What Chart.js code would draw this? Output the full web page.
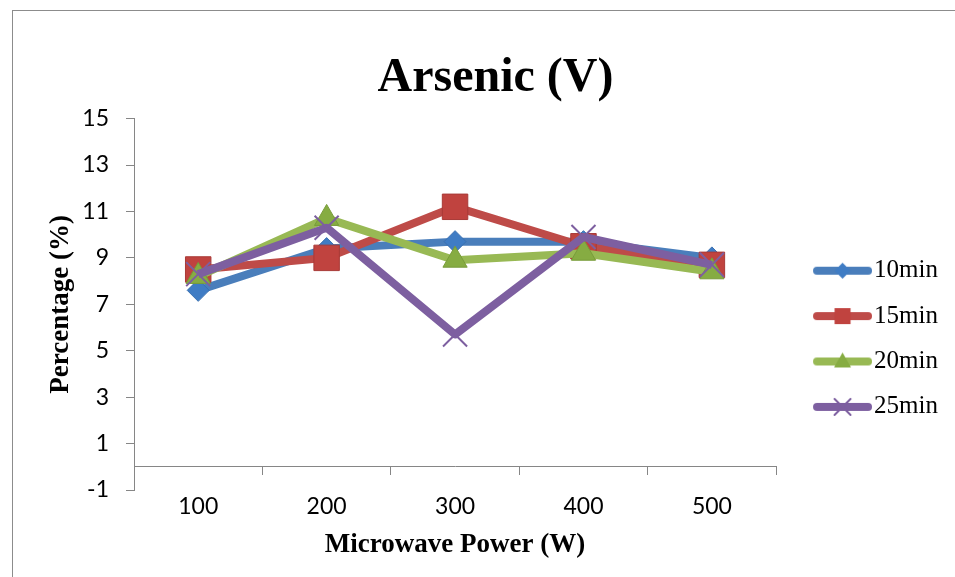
<!DOCTYPE html>
<html>
<head>
<meta charset="utf-8">
<script src="https://cdn.jsdelivr.net/npm/chart.js@4.4.1/dist/chart.umd.min.js"></script>
<style>
  html, body { margin: 0; padding: 0; background: #fff; overflow: hidden; }
  #frame { position: absolute; left: 12px; top: 10px; width: 1000px; height: 1000px; border: 1px solid #8c8c8c; }
  #chart { position: absolute; left: 0; top: 0; }
</style>
</head>
<body>
<div id="frame"></div>
<canvas id="chart" width="955" height="577"></canvas>
<script>
// data
const powers = ['100', '200', '300', '400', '500'];
const min10 = [7.6, 9.4, 9.7, 9.7, 9.0];
const min15 = [8.5, 9.0, 11.2, 9.5, 8.7];
const min20 = [8.2, 10.7, 8.9, 9.2, 8.4];
const min25 = [8.3, 10.3, 5.7, 9.9, 8.7];
const seriesNames = ['10min', '15min', '20min', '25min'];
const yTicks = [-1, 1, 3, 5, 7, 9, 11, 13, 15];

const axisGray = '#868686';

// legend icon: thick line with the marker in the middle
function legendIcon(color, fill, marker) {
  const c = document.createElement('canvas');
  c.width = 86; c.height = 22;
  const g = c.getContext('2d');
  g.strokeStyle = color; g.lineWidth = 8; g.lineCap = 'round';
  g.beginPath(); g.moveTo(31, 11); g.lineTo(82, 11); g.stroke();
  const cx = 56.5, cy = 11;
  g.fillStyle = fill; g.strokeStyle = fill; g.lineWidth = 1;
  g.beginPath();
  if (marker === 'diamond') {
    g.moveTo(cx, cy - 8); g.lineTo(cx + 8, cy); g.lineTo(cx, cy + 8); g.lineTo(cx - 8, cy); g.closePath(); g.fill();
  } else if (marker === 'square') {
    g.rect(cx - 8, cy - 8, 16, 16); g.fill();
  } else if (marker === 'triangle') {
    g.moveTo(cx, cy - 9); g.lineTo(cx + 8.5, cy + 6); g.lineTo(cx - 8.5, cy + 6); g.closePath(); g.fill();
  } else {
    g.lineWidth = 2;
    g.moveTo(cx - 8, cy - 8); g.lineTo(cx + 8, cy + 8);
    g.moveTo(cx + 8, cy - 8); g.lineTo(cx - 8, cy + 8); g.stroke();
  }
  return c;
}

const icons = [
  legendIcon('#4A7EBB', '#3F7CC4', 'diamond'),
  legendIcon('#BE4B48', '#C0433F', 'square'),
  legendIcon('#98B954', '#86AC42', 'triangle'),
  legendIcon('#7D5FA0', '#7D5FA0', 'cross')
];

new Chart(document.getElementById('chart'), {
  type: 'line',
  data: {
    labels: powers,
    datasets: [
      {
        label: seriesNames[0], data: min10, xAxisID: 'x', order: 3,
        borderColor: '#4A7EBB', borderWidth: 8, borderJoinStyle: 'round',
        pointStyle: 'rectRot', pointRadius: 11, pointBorderWidth: 1,
        pointBackgroundColor: '#3F7CC4', pointBorderColor: '#3A70B0'
      },
      {
        label: seriesNames[1], data: min15, xAxisID: 'x', order: 2,
        borderColor: '#BE4B48', borderWidth: 8, borderJoinStyle: 'round',
        pointStyle: 'rect', pointRadius: 18, pointBorderWidth: 1,
        pointBackgroundColor: '#C0433F', pointBorderColor: '#A83A37'
      },
      {
        label: seriesNames[2], data: min20, xAxisID: 'x', order: 1,
        borderColor: '#98B954', borderWidth: 8, borderJoinStyle: 'round',
        pointStyle: 'triangle', pointRadius: 14, pointBorderWidth: 1,
        pointBackgroundColor: '#86AC42', pointBorderColor: '#789C3A'
      },
      {
        label: seriesNames[3], data: min25, xAxisID: 'x', order: 0,
        borderColor: '#7D5FA0', borderWidth: 8, borderJoinStyle: 'round',
        pointStyle: 'crossRot', pointRadius: 17, pointBorderWidth: 2,
        pointBackgroundColor: '#7D5FA0', pointBorderColor: '#7D5FA0'
      }
    ]
  },
  options: {
    responsive: false,
    animation: false,
    devicePixelRatio: 1,
    layout: { padding: { left: 43, right: 7, top: 0, bottom: 0 } },
    plugins: {
      tooltip: { enabled: false },
      title: {
        display: true,
        text: 'Arsenic (V)',
        color: '#000',
        font: { family: 'Liberation Serif', size: 48, weight: 'bold' },
        padding: { top: 50, bottom: 11 }
      },
      legend: {
        position: 'right',
        fullSize: false,
        title: { display: true, text: '', font: { size: 10 }, padding: { top: 57, bottom: 0 } },
        labels: {
          usePointStyle: true,
          pointStyleWidth: 65.1,
          padding: 20.4,
          color: '#000',
          font: { family: 'Liberation Serif', size: 25 },
          generateLabels: chart => chart.data.datasets.map((ds, i) => ({
            text: ds.label,
            pointStyle: icons[i],
            datasetIndex: i,
            fontColor: '#000',
            lineWidth: 0,
            hidden: false
          }))
        }
      }
    },
    scales: {
      x: {
        type: 'category',
        position: 'bottom',
        offset: true,
        grid: { display: false, drawTicks: false },
        border: { display: false },
        ticks: { color: '#000', padding: 3, font: { family: 'Lato', size: 23 } },
        title: {
          display: true,
          text: 'Microwave Power (W)',
          color: '#000',
          font: { family: 'Liberation Serif', size: 27, weight: 'bold' },
          padding: { top: 0, bottom: 16 }
        },
        afterFit: s => { s.height = 87; }
      },
      // horizontal axis line crossing at y = 0
      x0: {
        type: 'category',
        position: { y: 0 },
        offset: true,
        grid: { display: true, offset: true, drawOnChartArea: false, drawTicks: true, tickLength: 8, color: axisGray, lineWidth: 1 },
        border: { display: true, color: axisGray, width: 1 },
        ticks: { display: false }
      },
      y: {
        position: 'left',
        min: yTicks[0],
        max: yTicks[yTicks.length - 1],
        ticks: { stepSize: yTicks[1] - yTicks[0], color: '#000', padding: 17, font: { family: 'Lato', size: 23 } },
        grid: { drawOnChartArea: false, drawTicks: true, tickLength: 8, color: axisGray },
        border: { display: true, color: axisGray },
        title: {
          display: true,
          text: 'Percentage (%)',
          color: '#000',
          font: { family: 'Liberation Serif', size: 27, weight: 'bold' },
          padding: { top: 2, bottom: 0 }
        },
        afterFit: s => { s.width = 91; }
      }
    }
  }
});
</script>
</body>
</html>
